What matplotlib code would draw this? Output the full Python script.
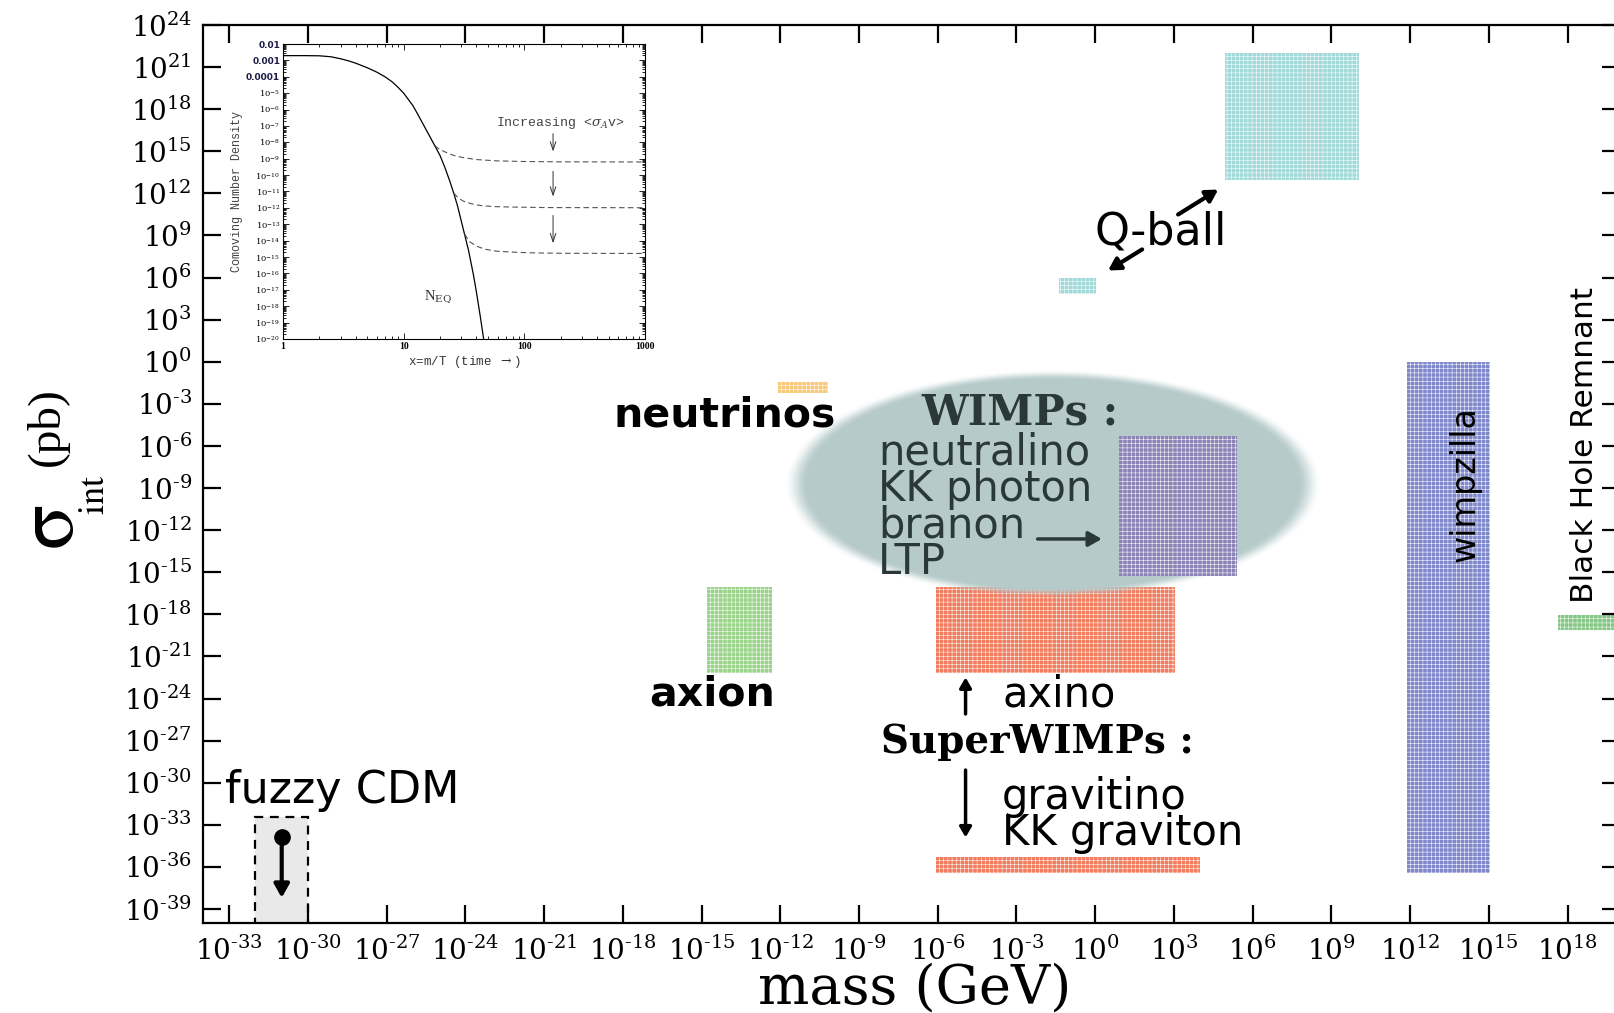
import numpy as np
import matplotlib
matplotlib.use('Agg')
import matplotlib.pyplot as plt
from matplotlib.ticker import FixedLocator, FuncFormatter, LogLocator, NullFormatter

plt.rcParams['mathtext.fontset'] = 'dejavuserif'
plt.rcParams['hatch.linewidth'] = 0.35

# dark matter candidates: log10 of mass range (GeV) and cross section range (pb)
candidates = ['Q-ball', 'Q-ball (light)', 'neutrinos', 'axion', 'axino',
              'WIMPs', 'gravitino', 'wimpzilla', 'BH remnant', 'fuzzy CDM']
logm_lo = [4.93, -1.36, -12.1, -14.8, -6.05, 0.9, -6.05, 11.9, 17.65, -32.0]
logm_hi = [10.04, 0.05, -10.2, -12.3, 3.05, 5.4, 4.0, 15.05, 21.0, -30.0]
logs_lo = [12.95, 4.83, -2.26, -22.2, -22.2, -15.3, -36.45, -36.45, -19.1, -41.0]
logs_hi = [22.0, 5.97, -1.45, -16.05, -16.05, -5.3, -35.3, 0.0, -18.05, -32.45]
colors = ['#a2dada', '#a2dada', '#f9c97a', '#9ad38a', '#f27d5e',
          '#8c84b6', '#f27d5e', '#8088cc', '#86c686', '#e9e9e9']

# freeze-out inset: equilibrium abundance and relic curves
neq_x = [1, 1.5, 2, 2.5, 3, 3.5, 4, 5, 6, 7, 8, 9, 10, 11.9, 13, 15.4, 18.1, 20,
         22, 24.2, 26, 28, 31.2, 34.5, 37.9, 40, 43.1, 46]
neq_logy = [-2.71, -2.71, -2.72, -2.78, -2.9, -3.03, -3.17, -3.45, -3.72, -4.0,
            -4.3, -4.65, -5.0, -5.75, -6.25, -7.25, -8.2, -8.8, -9.55, -10.4,
            -11.1, -11.9, -13.3, -14.6, -16.1, -17.1, -18.6, -20.0]
relic_x = [[18.1, 20, 22.6, 26, 31, 40, 58.6, 100, 200, 1000],
           [26, 28, 31, 36, 42.7, 55, 80.5, 150, 1000],
           [32, 35, 40, 47, 58.6, 80, 110, 200, 1000]]
relic_logy = [[-8.2, -8.45, -8.62, -8.8, -8.93, -9.05, -9.13, -9.17, -9.19, -9.2],
              [-11.1, -11.35, -11.58, -11.74, -11.85, -11.92, -11.95, -11.98, -11.99],
              [-13.6, -14.05, -14.33, -14.52, -14.64, -14.7, -14.74, -14.77, -14.78]]

xtick_exp = list(range(-33, 19, 3))
ytick_exp = list(range(-39, 25, 3))
inset_ytick_exp = list(range(-20, -1))
inset_ytick_labels = {-2: '0.01', -3: '0.001', -4: '0.0001'}


def pow_label(v, pos=None):
    e = int(round(np.log10(v)))
    if e < 0:
        return r'$10^{\text{-}%d}$' % -e
    return r'$10^{%d}$' % e


fig = plt.figure(figsize=(16.15, 10.13), dpi=100)
ax = fig.add_axes([203 / 1615, 90 / 1013, 1417 / 1615, 898 / 1013])
ax.set_xscale('log')
ax.set_yscale('log')

m_lo = 10.0 ** np.array(logm_lo)
m_hi = 10.0 ** np.array(logm_hi)
s_lo = 10.0 ** np.array(logs_lo)
s_hi = 10.0 ** np.array(logs_hi)

for i, name in enumerate(candidates):
    if name == 'fuzzy CDM':
        ax.bar(m_lo[i], s_hi[i] - s_lo[i], width=m_hi[i] - m_lo[i], bottom=s_lo[i],
               align='edge', color=colors[i], edgecolor='black', linewidth=1.6,
               linestyle=(0, (4, 3)), zorder=1)
    else:
        ax.bar(m_lo[i], s_hi[i] - s_lo[i], width=m_hi[i] - m_lo[i], bottom=s_lo[i],
               align='edge', color=colors[i], edgecolor='white', linewidth=0,
               hatch='++++', zorder=4 if name == 'WIMPs' else 1)

# soft-edged WIMP ellipse
ex0, ex1, ey0, ey1 = 0.38, 0.82, 0.33, 0.65
gx, gy = np.meshgrid(np.linspace(ex0, ex1, 700), np.linspace(ey0, ey1, 300))
d = np.hypot((gx - 0.600) / 0.184, (gy - 0.489) / 0.1236)
a = np.clip((1.03 - d) / 0.09, 0, 1)
a = a * a * (3 - 2 * a)
ell = np.zeros(gx.shape + (4,))
ell[..., 0], ell[..., 1], ell[..., 2] = 0.715, 0.795, 0.795
ell[..., 3] = a
ax.imshow(ell, extent=(ex0, ex1, ey0, ey1), transform=ax.transAxes, origin='lower',
          aspect='auto', interpolation='bilinear', zorder=2)

ax.set_xlim(1e-34, 1e20)
ax.set_ylim(1e-40, 1e24)

ax.xaxis.set_major_locator(FixedLocator([10.0 ** e for e in xtick_exp]))
ax.yaxis.set_major_locator(FixedLocator([10.0 ** e for e in ytick_exp]))
ax.xaxis.set_minor_locator(FixedLocator([]))
ax.yaxis.set_minor_locator(FixedLocator([]))
ax.xaxis.set_major_formatter(FuncFormatter(pow_label))
ax.yaxis.set_major_formatter(FuncFormatter(pow_label))
ax.tick_params(which='major', direction='in', length=13, width=1.6, labelsize=20,
               top=True, right=True, pad=8)
ax.tick_params(axis='x', pad=10)
for sp in ax.spines.values():
    sp.set_linewidth(1.6)

# labels
sans = 'DejaVu Sans'
serif = 'DejaVu Serif'
ax.text(0.368, 0.5646, 'neutrinos', transform=ax.transAxes, ha='center', va='center',
        fontsize=29.5, fontweight='bold', family=sans, zorder=6)
ax.text(0.3592, 0.255, 'axion', transform=ax.transAxes, ha='center', va='center',
        fontsize=29.5, fontweight='bold', family=sans, zorder=6)
ax.text(0.5766, 0.569, 'WIMPs :', transform=ax.transAxes, ha='center', va='center',
        fontsize=30, fontweight='bold', family=serif, color='#2b3838', zorder=6)
ax.text(0.4764, 0.4633, 'neutralino\nKK photon\nbranon\nLTP', transform=ax.transAxes,
        ha='left', va='center', multialignment='left', linespacing=0.83,
        fontsize=30, family=sans, color='#2b3838', zorder=6)
ax.annotate('', xy=(10 ** 0.36, 10 ** -12.63), xytext=(10 ** -2.3, 10 ** -12.63),
            arrowprops=dict(arrowstyle='-|>,head_length=0.8,head_width=0.45',
                            lw=2.5, color='#2b3838'), zorder=6)
ax.text(0.5639, 0.255, 'axino', transform=ax.transAxes, ha='left', va='center',
        fontsize=30, family=sans, zorder=6)
ax.text(0.5886, 0.2016, 'SuperWIMPs :', transform=ax.transAxes, ha='center', va='center',
        fontsize=28, fontweight='bold', family=serif, zorder=6)
ax.text(0.5639, 0.1203, 'gravitino\nKK graviton', transform=ax.transAxes, ha='left',
        va='center', multialignment='left', linespacing=0.83,
        fontsize=30, family=sans, zorder=6)
ax.annotate('', xy=(10 ** -4.94, 10 ** -22.3), xytext=(10 ** -4.94, 10 ** -25.3),
            arrowprops=dict(arrowstyle='-|>,head_length=0.6,head_width=0.35',
                            lw=2.5, color='black'))
ax.annotate('', xy=(10 ** -4.94, 10 ** -34.1), xytext=(10 ** -4.94, 10 ** -28.9),
            arrowprops=dict(arrowstyle='-|>,head_length=0.6,head_width=0.35',
                            lw=2.5, color='black'))
ax.text(0.0155, 0.147, 'fuzzy CDM', transform=ax.transAxes, ha='left', va='center',
        fontsize=32, family=sans, zorder=6)
fx = np.sqrt(m_lo[-1] * m_hi[-1])
ax.annotate('', xy=(fx, 10 ** -38.4), xytext=(fx, 10 ** -33.9),
            arrowprops=dict(arrowstyle='-|>,head_length=0.8,head_width=0.45',
                            lw=3, color='black'), zorder=6)
ax.plot([fx], [10 ** -33.9], 'o', ms=11, color='black', zorder=6)
ax.text(0.676, 0.769, 'Q-ball', transform=ax.transAxes, ha='center', va='center',
        fontsize=32, family=sans, zorder=6)
ax.annotate('', xy=(10 ** 4.78, 10 ** 12.38), xytext=(10 ** 3.07, 10 ** 10.39),
            arrowprops=dict(arrowstyle='-|>,head_length=0.7,head_width=0.4',
                            lw=3, color='black'))
ax.annotate('', xy=(10 ** 0.4, 10 ** 6.4), xytext=(10 ** 1.88, 10 ** 8.11),
            arrowprops=dict(arrowstyle='-|>,head_length=0.7,head_width=0.4',
                            lw=3, color='black'))
ax.text(0.8906, 0.4889, 'wimpzilla', transform=ax.transAxes, ha='center', va='center',
        fontsize=24, family=sans, rotation=90, zorder=6)
ax.text(0.9746, 0.5323, 'Black Hole Remnant', transform=ax.transAxes, ha='center',
        va='center', fontsize=22.5, family=sans, rotation=90, zorder=6)

# axis titles
fig.text(0.5665, 0.009, 'mass (GeV)', ha='center', va='baseline', fontsize=39,
         family=serif)
fig.text(49 / 1615, 1 - 527 / 1013, r'$\mathrm{σ}$', ha='center', va='center',
         fontsize=60, math_fontfamily='stix', rotation=90)
fig.text(94 / 1615, 1 - 495 / 1013, r'$\mathrm{int}$', ha='center', va='center',
         fontsize=26, math_fontfamily='stix', rotation=90)
fig.text(47 / 1615, 1 - 427 / 1013, '(pb)', ha='center', va='center', fontsize=34,
         family='Liberation Serif', rotation=90)

# inset: comoving number density vs x = m/T
ins = fig.add_axes([283 / 1615, 1 - 339 / 1013, 362 / 1615, 295 / 1013])
ins.set_xscale('log')
ins.set_yscale('log')
ins.plot(neq_x, 10.0 ** np.array(neq_logy), color='black', lw=0.9)
for rx, ry in zip(relic_x, relic_logy):
    ins.plot(rx, 10.0 ** np.array(ry), color='#555555', lw=0.8, dashes=(5, 3))
for y0, y1 in [(-7.3, -8.73), (-9.6, -11.48), (-12.29, -14.33)]:
    ins.annotate('', xy=(173, 10 ** y1), xytext=(173, 10 ** y0),
                 arrowprops=dict(arrowstyle='->,head_length=0.6,head_width=0.2',
                                 lw=0.7, color='#333333'))
ins.text(199, 10 ** -6.79, r'Increasing <$\sigma_{A}$v>', ha='center', va='center',
         fontsize=9.5, family='Liberation Mono', color='#444444')
ins.text(19.3, 10 ** -17.4, r'N$_{\rm EQ}$', ha='center', va='center', fontsize=10.5,
         family='Liberation Serif', color='#333333')
ins.set_xlim(1, 1000)
ins.set_ylim(1e-20, 1e-2)
ins.xaxis.set_major_locator(FixedLocator([1, 10, 100, 1000]))
ins.xaxis.set_major_formatter(FuncFormatter(lambda v, p: '%d' % round(v)))
ins.xaxis.set_minor_locator(LogLocator(subs=np.arange(2, 10)))
ins.xaxis.set_minor_formatter(NullFormatter())
ins.yaxis.set_major_locator(FixedLocator([10.0 ** e for e in inset_ytick_exp]))
ins.yaxis.set_minor_locator(LogLocator(subs=np.arange(2, 10), numticks=40))
ins.yaxis.set_minor_formatter(NullFormatter())
ins.yaxis.set_major_formatter(FuncFormatter(
    lambda v, p: inset_ytick_labels.get(round(np.log10(v)),
                                        r'$10^{%d}$' % round(np.log10(v)))))
ins.tick_params(which='both', direction='in', top=True, right=True, width=0.6)
ins.tick_params(which='major', length=4, labelsize=6, pad=2)
ins.tick_params(which='minor', length=2)
for lab in ins.get_yticklabels():
    if lab.get_text() in inset_ytick_labels.values():
        lab.set_fontweight('bold')
        lab.set_color('#1c1c48')
        lab.set_fontsize(6.5)
for lab in ins.get_xticklabels():
    lab.set_fontweight('bold')
    lab.set_family('Liberation Serif')
    lab.set_fontsize(7)
ins.set_xlabel(r'x=m/T (time $\rightarrow$)', fontsize=9, family='Liberation Mono',
               color='#333333', labelpad=2)
ins.set_ylabel('Comoving Number Density', fontsize=8.5, family='Liberation Mono',
               color='#444444', labelpad=2)
for sp in ins.spines.values():
    sp.set_linewidth(0.8)

fig.savefig('out.png', dpi=100)
